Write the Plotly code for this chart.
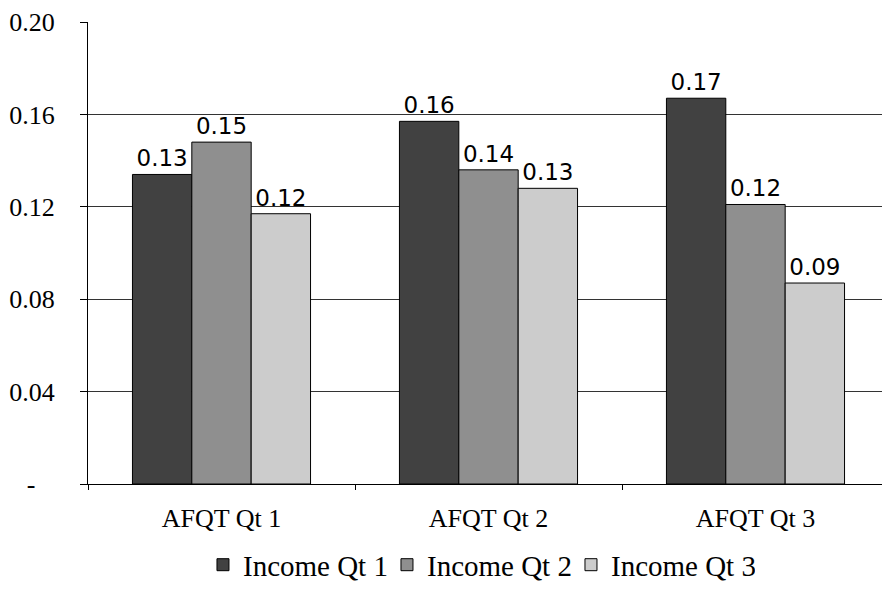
import plotly.graph_objects as go

# Categories and series values
categories = ["AFQT Qt 1", "AFQT Qt 2", "AFQT Qt 3"]
series_names = ["Income Qt 1", "Income Qt 2", "Income Qt 3"]
income_qt1 = [0.134, 0.157, 0.167]
income_qt2 = [0.148, 0.136, 0.121]
income_qt3 = [0.117, 0.128, 0.087]

# Y-axis ticks (zero shown as a dash, accounting style)
y_tick_vals = [0, 0.04, 0.08, 0.12, 0.16, 0.20]
y_tick_text = ["-\u00a0\u00a0\u00a0", "0.04", "0.08", "0.12", "0.16", "0.20"]

colors = ["#414141", "#8f8f8f", "#cccccc"]
all_series = [income_qt1, income_qt2, income_qt3]

fig = go.Figure()
for name, vals, col in zip(series_names, all_series, colors):
    fig.add_trace(go.Bar(
        x=categories,
        y=vals,
        name=name,
        marker=dict(color=col, line=dict(color="#000000", width=1)),
        texttemplate="%{y:.2f}",
        textposition="outside",
        textfont=dict(family="DejaVu Sans", size=23, color="#000000"),
        constraintext="none",
        cliponaxis=False,
    ))

serif = "Liberation Serif"

fig.update_layout(
    width=882,
    height=606,
    margin=dict(l=88, r=0, t=22, b=122),
    paper_bgcolor="white",
    plot_bgcolor="white",
    barmode="group",
    bargap=0.333,
    bargroupgap=0,
    font=dict(family=serif, size=26, color="#000000"),
    showlegend=True,
    legend=dict(
        orientation="h",
        x=0.1448,
        xanchor="left",
        y=-0.175,
        yanchor="middle",
        font=dict(family=serif, size=29, color="#000000"),
        itemwidth=30,
        entrywidth=139,
        entrywidthmode="pixels",
    ),
    xaxis=dict(
        type="category",
        range=[-0.5, 2.4738],
        showline=True,
        linecolor="#000000",
        linewidth=1,
        ticks="outside",
        tickson="boundaries",
        ticklen=5,
        tickcolor="#000000",
        showgrid=False,
        tickfont=dict(family=serif, size=26, color="#000000"),
        ticklabelstandoff=11,
    ),
    yaxis=dict(
        range=[0, 0.2],
        tickvals=y_tick_vals,
        ticktext=y_tick_text,
        showline=True,
        linecolor="#000000",
        linewidth=1,
        ticks="outside",
        ticklen=7,
        tickcolor="#000000",
        showgrid=True,
        gridcolor="#333333",
        gridwidth=1,
        zeroline=False,
        tickfont=dict(family=serif, size=26, color="#000000"),
        ticklabelstandoff=20,
    ),
)

fig.write_html("out.html")
